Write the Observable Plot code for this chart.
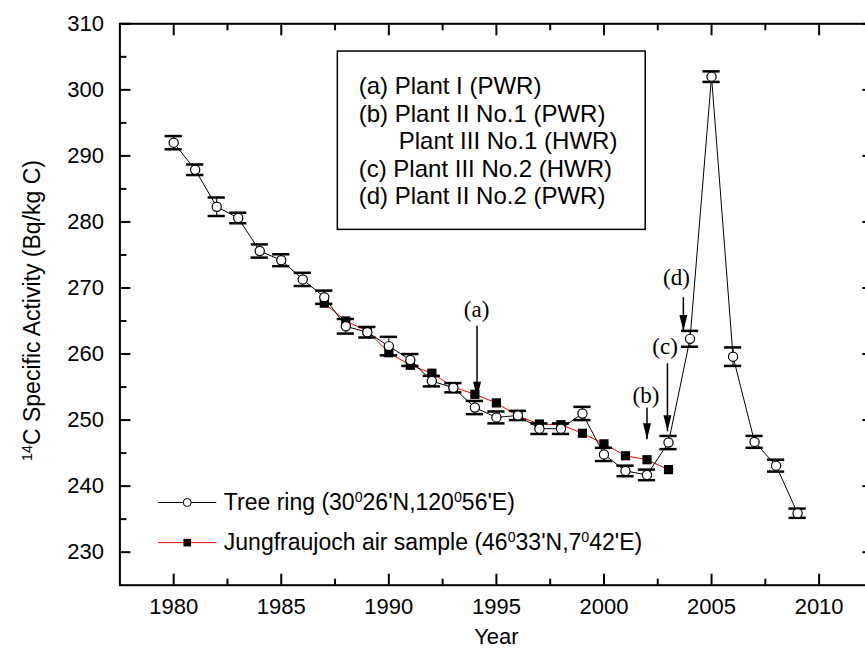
<!DOCTYPE html>
<html><head><meta charset="utf-8">
<script src="https://cdn.jsdelivr.net/npm/d3@7"></script>
<script src="https://cdn.jsdelivr.net/npm/@observablehq/plot@0.6"></script>
<style>
body{margin:0;background:#fff}
#chart svg{font-family:"Liberation Sans",Arial,sans-serif;overflow:hidden}
</style>
</head><body><div id="chart"></div>
<script>
// ---- data ----
const treeYears = [1980,1981,1982,1983,1984,1985,1986,1987,1988,1989,1990,1991,1992,1993,1994,1995,1996,1997,1998,1999,2000,2001,2002,2003,2004,2005,2006,2007,2008,2009];
const treeValues = [292.0,287.9,282.3,280.6,275.6,274.2,271.3,268.6,264.2,263.3,261.2,259.1,255.9,254.9,251.9,250.4,250.7,248.7,248.7,251.0,244.8,242.3,241.7,246.6,262.3,302.0,259.6,246.7,243.1,235.9];
const treeErrors = [1.0,0.8,1.4,0.8,1.0,0.9,1.0,1.0,1.1,0.8,1.4,0.9,0.8,0.7,1.0,0.9,0.7,0.8,0.8,1.0,1.0,0.8,0.8,1.0,1.2,0.8,1.4,0.9,0.9,0.7];
const airYears = [1987,1988,1989,1990,1991,1992,1993,1994,1995,1996,1997,1998,1999,2000,2001,2002,2003];
const airValues = [267.7,265.0,263.5,260.2,258.3,257.1,255.0,253.9,252.6,250.6,249.4,249.3,248.0,246.4,244.6,244.0,242.5];
const xTicks = [1980,1985,1990,1995,2000,2005,2010];
const xMinorTicks = [1982.5,1987.5,1992.5,1997.5,2002.5,2007.5];
const yTicks = [230,240,250,260,270,280,290,300,310];
const yMinorTicks = [235,245,255,265,275,285,295,305];
const boxLines = ["(a) Plant I (PWR)","(b) Plant II No.1 (PWR)","\u00a0\u00a0\u00a0\u00a0\u00a0\u00a0Plant III No.1 (HWR)","(c) Plant III No.2 (HWR)","(d) Plant II No.2 (PWR)"];
const annoLabels = ["(a)","(b)","(c)","(d)"];
const annoTextX = [1994.08,2001.95,2002.84,2003.37];
const annoTextY = [266.7,253.7,261.1,271.6];
const annoArrowX = [1994.1,2002.0,2002.95,2003.69];
const annoArrowFrom = [264.3,251.9,258.6,268.6];
const annoArrowTo = [253.4,247.1,248.3,263.5];
const legendLabels = ["Tree ring (30^{0}26'N,120^{0}56'E)","Jungfraujoch air sample (46^{0}33'N,7^{0}42'E)"];
const yTitle = "^{14}C Specific Activity (Bq/kg C)";
const xTitle = "Year";

// ---- tables ----
const tree = treeYears.map((year,i)=>({year, v:treeValues[i], e:treeErrors[i]}));
const air = airYears.map((year,i)=>({year, v:airValues[i]}));
const annos = annoLabels.map((label,i)=>({label, tx:annoTextX[i], ty:annoTextY[i], x:annoArrowX[i], y1:annoArrowFrom[i], y2:annoArrowTo[i]}));

const arrowHead = {draw(ctx){ctx.moveTo(0,0);ctx.lineTo(-4,-16);ctx.lineTo(4,-16);ctx.closePath();}};
const hline = {draw(ctx){ctx.moveTo(-29,0);ctx.lineTo(29,0);}};

const sans = "Liberation Sans, Arial, sans-serif";
const serif = "Liberation Serif, Times New Roman, serif";

const chart = Plot.plot({
  width: 865,
  height: 658,
  marginLeft: 119.4, marginRight: -7.4, marginTop: 23.3, marginBottom: 73.3,
  x: {domain:[1977.5,2012.5]},
  y: {domain:[225,310]},
  marks: [
    // axes
    Plot.axisX({anchor:"bottom", ticks:xMinorTicks, tickSize:-6, tickFormat:()=>"", strokeWidth:2}),
    Plot.axisX({anchor:"bottom", ticks:xTicks, tickSize:-11, tickPadding:24, tickFormat:d=>String(d), strokeWidth:2, fontSize:22, fontFamily:sans, fill:"black"}),
    Plot.axisX({anchor:"top", ticks:xMinorTicks, tickSize:-6, tickFormat:()=>"", strokeWidth:2}),
    Plot.axisX({anchor:"top", ticks:xTicks, tickSize:-11, tickFormat:()=>"", strokeWidth:2}),
    Plot.axisY({anchor:"left", ticks:yMinorTicks, tickSize:-7, tickFormat:()=>"", strokeWidth:2}),
    Plot.axisY({anchor:"left", ticks:yTicks, tickSize:-11, tickPadding:27, tickFormat:d=>String(d), strokeWidth:2, fontSize:22, fontFamily:sans, fill:"black"}),
    Plot.axisY({anchor:"right", ticks:yMinorTicks, tickSize:-7, tickFormat:()=>"", strokeWidth:2}),
    Plot.axisY({anchor:"right", ticks:yTicks, tickSize:-11, tickFormat:()=>"", strokeWidth:2}),
    Plot.frame({stroke:"black", strokeWidth:2}),
    Plot.text([xTitle], {frameAnchor:"bottom", dy:59, fontSize:22, fontFamily:sans, fill:"black"}),
    Plot.text([yTitle], {x:1973.45, y:266.6, rotate:-90, fontSize:23, fontFamily:sans, fill:"black"}),

    // series
    Plot.line(air, {x:"year", y:"v", stroke:"#ff0000", strokeWidth:1}),
    Plot.dot(air, {x:"year", y:"v", symbol:"square", r:5.2, fill:"black", stroke:"none"}),
    Plot.line(tree, {x:"year", y:"v", stroke:"black", strokeWidth:1}),
    Plot.ruleX(tree, {x:"year", y1:d=>d.v-d.e, y2:d=>d.v+d.e, stroke:"black", strokeWidth:1}),
    Plot.ruleY(tree, {y:d=>d.v-d.e, x1:d=>d.year-0.4, x2:d=>d.year+0.4, stroke:"black", strokeWidth:2.5}),
    Plot.ruleY(tree, {y:d=>d.v+d.e, x1:d=>d.year-0.4, x2:d=>d.year+0.4, stroke:"black", strokeWidth:2.5}),
    Plot.dot(tree, {x:"year", y:"v", r:4.6, fill:"white", stroke:"black", strokeWidth:1.2}),

    // annotation box
    Plot.rect([0], {x1:1987.63, x2:2001.94, y1:278.8, y2:305.8, fill:"none", stroke:"black", strokeWidth:1.5}),
    Plot.text([boxLines.join("\n")], {x:1988.6, y:292.32, textAnchor:"start", lineAnchor:"middle", lineHeight:1.146, fontSize:24, fontFamily:sans, fill:"black"}),

    // arrows
    Plot.link(annos, {x1:"x", x2:"x", y1:"y1", y2:"y2", stroke:"black", strokeWidth:1.5}),
    Plot.dot(annos, {x:"x", y:"y2", symbol:arrowHead, fill:"black", stroke:"none"}),
    Plot.text(annos, {x:"tx", y:"ty", text:"label", fontSize:23, fontFamily:serif, fill:"black"}),

    // legend
    Plot.dot([0], {x:1980.63, y:237.52, symbol:hline, stroke:"black", strokeWidth:1, fill:"none"}),
    Plot.dot([0], {x:1980.63, y:237.52, r:4, fill:"white", stroke:"black", strokeWidth:1}),
    Plot.dot([0], {x:1980.63, y:231.45, symbol:hline, stroke:"#ff0000", strokeWidth:1, fill:"none"}),
    Plot.dot([0], {x:1980.63, y:231.45, symbol:"square", r:4.3, fill:"black", stroke:"none"}),
    Plot.text([legendLabels[0]], {x:1982.33, y:237.52, textAnchor:"start", fontSize:23, fontFamily:sans, fill:"black"}),
    Plot.text([legendLabels[1]], {x:1982.33, y:231.45, textAnchor:"start", fontSize:23, fontFamily:sans, fill:"black"})
  ]
});

// superscripts: turn ^{..} into raised tspans
const NS = "http://www.w3.org/2000/svg";
d3.select(chart).selectAll("text").each(function(){
  if (this.querySelector("tspan")) return;
  const t = this.textContent;
  if (!t.includes("^{")) return;
  const parts = t.split(/\^\{([^}]*)\}/);
  this.textContent = "";
  parts.forEach((p,i)=>{
    if (!p) return;
    const ts = document.createElementNS(NS,"tspan");
    ts.textContent = p;
    if (i % 2 === 1) { ts.setAttribute("baseline-shift","super"); ts.setAttribute("font-size","62%"); }
    this.appendChild(ts);
  });
});

document.getElementById("chart").appendChild(chart);
</script>
</body></html>
